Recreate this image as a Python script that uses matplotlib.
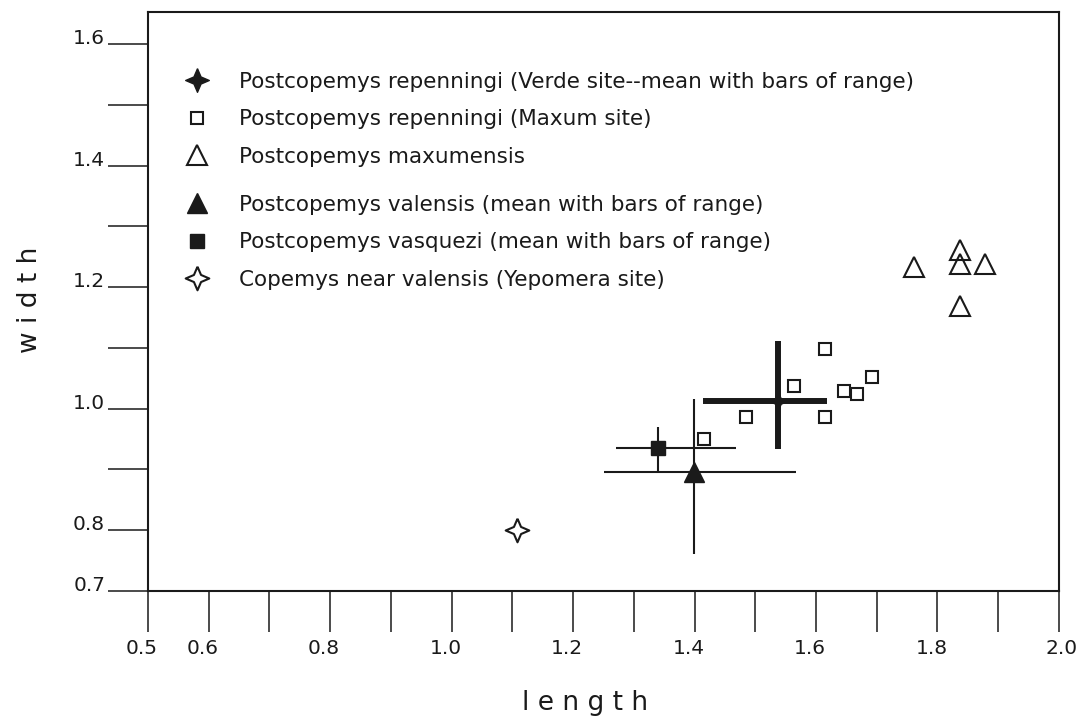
import numpy as np
import matplotlib
matplotlib.use("Agg")
import matplotlib.pyplot as plt
import matplotlib.transforms as mtransforms
from matplotlib.lines import Line2D

# Postcopemys repenningi (Maxum site)
maxum_len = [1.416, 1.485, 1.564, 1.615, 1.615, 1.646, 1.667, 1.692]
maxum_wid = [0.950, 0.986, 1.037, 1.098, 0.986, 1.029, 1.024, 1.052]

# Postcopemys maxumensis
maxumensis_len = [1.761, 1.837, 1.837, 1.878, 1.837]
maxumensis_wid = [1.233, 1.261, 1.238, 1.238, 1.169]

# means with range bars: (mean, low, high)
verde_len = [1.537, 1.414, 1.618]
verde_wid = [1.013, 0.934, 1.111]
valensis_len = [1.399, 1.251, 1.567]
valensis_wid = [0.896, 0.761, 1.016]
vasquezi_len = [1.340, 1.271, 1.468]
vasquezi_wid = [0.935, 0.896, 0.970]

# Copemys near valensis (Yepomera site)
copemys_len = [1.108]
copemys_wid = [0.800]

xticks = [0.5, 0.6, 0.7, 0.8, 0.9, 1.0, 1.1, 1.2, 1.3, 1.4, 1.5, 1.6, 1.7, 1.8, 1.9, 2.0]
xlabels = ['0.5', '0.6', '', '0.8', '', '1.0', '', '1.2', '', '1.4', '', '1.6', '', '1.8', '', '2.0']
yticks = [0.7, 0.8, 0.9, 1.0, 1.1, 1.2, 1.3, 1.4, 1.5, 1.6]
ylabels = ['0.7', '0.8', '', '1.0', '', '1.2', '', '1.4', '', '1.6']

labels = ['Postcopemys repenningi (Verde site--mean with bars of range)',
          'Postcopemys repenningi (Maxum site)',
          'Postcopemys maxumensis',
          'Postcopemys valensis (mean with bars of range)',
          'Postcopemys vasquezi (mean with bars of range)',
          'Copemys near valensis (Yepomera site)']

# four pointed star marker
r = 0.3
star = [(0, 1), (r, r), (1, 0), (r, -r), (0, -1), (-r, -r), (-1, 0), (-r, r), (0, 1)]

plt.rcParams['font.family'] = 'DejaVu Sans'
fig = plt.figure(figsize=(10.81, 7.25), dpi=100)
ax = fig.add_axes([0.1369, 0.1848, 0.8427, 0.7986])
ax.set_xlim(0.5, 2.0)
ax.set_ylim(0.7, 1.6527)

k = '#1a1a1a'

def rng(ax, xs, ys, lw):
    ax.errorbar(xs[0], ys[0],
                xerr=[[xs[0] - xs[1]], [xs[2] - xs[0]]],
                yerr=[[ys[0] - ys[1]], [ys[2] - ys[0]]],
                fmt='none', ecolor=k, elinewidth=lw, capsize=0)

rng(ax, verde_len, verde_wid, 4.3)
rng(ax, valensis_len, valensis_wid, 1.5)
rng(ax, vasquezi_len, vasquezi_wid, 1.5)

ax.plot(verde_len[0], verde_wid[0], marker=star, ms=13, color=k, ls='none')
ax.plot(maxum_len, maxum_wid, marker='s', ms=8.5, mfc='white', mec=k, mew=1.5, ls='none')
ax.plot(maxumensis_len, maxumensis_wid, marker='^', ms=15, mfc='none', mec=k, mew=1.5, ls='none')
ax.plot(valensis_len[0], valensis_wid[0], marker='^', ms=15, color=k, ls='none')
ax.plot(vasquezi_len[0], vasquezi_wid[0], marker='s', ms=10, color=k, ls='none')
ax.plot(copemys_len, copemys_wid, marker=star, ms=17, mfc='white', mec=k, mew=1.5, ls='none')

# legend shows markers only, in two groups
handles = [
    Line2D([], [], marker=star, ms=17, color=k, ls='none'),
    Line2D([], [], marker='s', ms=9, mfc='white', mec=k, mew=1.5, ls='none'),
    Line2D([], [], marker='^', ms=15, mfc='white', mec=k, mew=1.5, ls='none'),
    Line2D([], [], marker='^', ms=15, color=k, ls='none'),
    Line2D([], [], marker='s', ms=10, color=k, ls='none'),
    Line2D([], [], marker=star, ms=17, mfc='white', mec=k, mew=1.5, ls='none'),
]
leg_kw = dict(loc='upper left', bbox_transform=fig.transFigure, frameon=False, fontsize=15.5,
              labelspacing=0.81, handletextpad=1.2, handlelength=1.5, borderpad=0,
              borderaxespad=0, labelcolor=k)
leg1 = ax.legend(handles[:3], labels[:3], bbox_to_anchor=(181 / 1081, 1 - 72 / 725), **leg_kw)
ax.add_artist(leg1)
ax.legend(handles[3:], labels[3:], bbox_to_anchor=(181 / 1081, 1 - 195 / 725), **leg_kw)

ax.set_xticks(xticks, xlabels)
ax.set_yticks(yticks, ylabels)
ax.tick_params(axis='x', direction='out', length=29.5, width=1.1, pad=5, labelsize=14.5, colors=k)
ax.tick_params(axis='y', direction='out', length=28.8, width=1.1, pad=2, labelsize=14.5, colors=k)
for t in ax.get_yticklabels():
    t.set_verticalalignment('baseline')
xl = ax.get_xticklabels()
for i, t in enumerate(xl):
    dx = 3 if i == len(xl) - 1 else -6
    t.set_transform(t.get_transform() + mtransforms.ScaledTranslation(dx / 100, 0, fig.dpi_scale_trans))
for s in ax.spines.values():
    s.set_linewidth(1.5)
    s.set_color(k)

fig.text(30 / 1081, 1 - 300 / 725, 'w i d t h', rotation=90, ha='center', va='center', fontsize=19, color=k)
fig.text(585 / 1081, 1 - 703 / 725, 'l e n g t h', ha='center', va='center', fontsize=19, color=k)

fig.savefig('out.png', dpi=100)
